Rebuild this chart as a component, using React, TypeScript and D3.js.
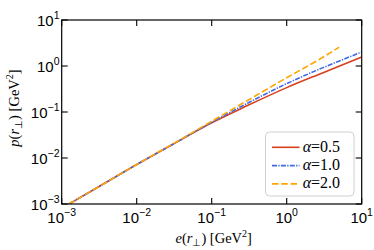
import React, { useEffect, useRef } from 'react';
import * as d3 from 'd3';

// x values (e(r_perp) in GeV^2) shared by all curves
const eValues = [1.25e-3, 3e-3, 1e-2, 3e-2, 1e-1, 0.3, 1, 3, 10];
const eValuesOrange = [1.25e-3, 3e-3, 1e-2, 3e-2, 1e-1, 0.3, 1, 3, 5];

const pAlpha05 = [1e-3, 2.29e-3, 7.2e-3, 0.0197, 0.0582, 0.138, 0.339, 0.708, 1.57];
const pAlpha10 = [1e-3, 2.29e-3, 7.2e-3, 0.0197, 0.0596, 0.155, 0.414, 0.91, 2.01];
const pAlpha20 = [1e-3, 2.29e-3, 7.24e-3, 0.020, 0.063, 0.178, 0.556, 1.53, 2.57];

const seriesLabels = ['0.5', '1.0', '2.0'];
const tickExponents = [-3, -2, -1, 0, 1];

const W = 374;
const H = 250;
const margin = { top: 20, right: 12.3, bottom: 46, left: 61.7 };

const App: React.FC = () => {
  const svgRef = useRef<SVGSVGElement | null>(null);

  useEffect(() => {
    const svg = d3.select(svgRef.current);
    svg.selectAll('*').remove();

    const x = d3.scaleLog().domain([1e-3, 1e1]).range([margin.left, W - margin.right]);
    const y = d3.scaleLog().domain([1e-3, 1e1]).range([H - margin.bottom, margin.top]);

    const series = [
      { xs: eValues, ys: pAlpha05, color: '#d7401c', dash: null, label: seriesLabels[0] },
      { xs: eValues, ys: pAlpha10, color: '#4169e1', dash: '5,1.3,1.3,1.3', label: seriesLabels[1] },
      { xs: eValuesOrange, ys: pAlpha20, color: '#ffa500', dash: '6.5,2.8', label: seriesLabels[2] },
    ];

    svg.append('defs').append('clipPath').attr('id', 'plotclip')
      .append('rect')
      .attr('x', margin.left).attr('y', margin.top)
      .attr('width', W - margin.left - margin.right)
      .attr('height', H - margin.top - margin.bottom);

    const line = d3.line<[number, number]>()
      .x(d => x(d[0]))
      .y(d => y(d[1]))
      .curve(d3.curveMonotoneX);

    const g = svg.append('g').attr('clip-path', 'url(#plotclip)');
    series.forEach(s => {
      const pts = s.xs.map((v, i) => [v, s.ys[i]] as [number, number]);
      g.append('path')
        .datum(pts)
        .attr('d', line)
        .attr('fill', 'none')
        .attr('stroke', s.color)
        .attr('stroke-width', 1.6)
        .attr('stroke-dasharray', s.dash);
    });

    // frame
    svg.append('rect')
      .attr('x', margin.left).attr('y', margin.top)
      .attr('width', W - margin.left - margin.right)
      .attr('height', H - margin.top - margin.bottom)
      .attr('fill', 'none').attr('stroke', 'black').attr('stroke-width', 1.2);

    const tickVals = tickExponents.map(e => Math.pow(10, e));
    const tl = 6;
    const ticks = svg.append('g').attr('stroke', 'black').attr('stroke-width', 1.1);
    tickVals.forEach(v => {
      const xp = x(v);
      const yp = y(v);
      ticks.append('line').attr('x1', xp).attr('x2', xp).attr('y1', H - margin.bottom).attr('y2', H - margin.bottom - tl);
      ticks.append('line').attr('x1', xp).attr('x2', xp).attr('y1', margin.top).attr('y2', margin.top + tl);
      ticks.append('line').attr('x1', margin.left).attr('x2', margin.left + tl).attr('y1', yp).attr('y2', yp);
      ticks.append('line').attr('x1', W - margin.right).attr('x2', W - margin.right - tl).attr('y1', yp).attr('y2', yp);
    });

    const font = '"Liberation Sans", Arial, sans-serif';
    const expText = (e: number) => (e < 0 ? `\u2212${-e}` : `${e}`);
    // x tick labels
    tickExponents.forEach(e => {
      const t = svg.append('text')
        .attr('x', x(Math.pow(10, e)))
        .attr('y', 223.3)
        .attr('text-anchor', 'middle')
        .attr('font-family', font)
        .attr('font-size', 15);
      t.append('tspan').text('10');
      t.append('tspan').attr('dy', -7).attr('font-size', 10.5).text(expText(e));
    });
    // y tick labels
    tickExponents.forEach(e => {
      const t = svg.append('text')
        .attr('x', 59.5)
        .attr('y', y(Math.pow(10, e)) + 6)
        .attr('text-anchor', 'end')
        .attr('font-family', font)
        .attr('font-size', 15);
      t.append('tspan').text('10');
      t.append('tspan').attr('dy', -7).attr('font-size', 10.5).text(expText(e));
    });

    const serif = '"Liberation Serif", "Times New Roman", serif';
    const labelSize = 14.5;
    const subSize = 10;
    // x axis label
    const xl = svg.append('text')
      .attr('x', (margin.left + W - margin.right) / 2 + 2)
      .attr('y', 243)
      .attr('text-anchor', 'middle')
      .attr('font-family', serif)
      .attr('font-size', labelSize);
    xl.append('tspan').attr('font-style', 'italic').text('e');
    xl.append('tspan').text('(');
    xl.append('tspan').attr('font-style', 'italic').text('r');
    xl.append('tspan').attr('dy', 3).attr('font-size', subSize).text('\u22a5');
    xl.append('tspan').attr('dy', -3).text(') [GeV');
    xl.append('tspan').attr('dy', -6).attr('font-size', subSize).text('2');
    xl.append('tspan').attr('dy', 6).text(']');

    // y axis label
    const yl = svg.append('text')
      .attr('transform', `translate(19,${(margin.top + H - margin.bottom) / 2 - 4}) rotate(-90)`)
      .attr('text-anchor', 'middle')
      .attr('font-family', serif)
      .attr('font-size', labelSize);
    yl.append('tspan').attr('font-style', 'italic').text('p');
    yl.append('tspan').text('(');
    yl.append('tspan').attr('font-style', 'italic').text('r');
    yl.append('tspan').attr('dy', 3).attr('font-size', subSize).text('\u22a5');
    yl.append('tspan').attr('dy', -3).text(') [GeV');
    yl.append('tspan').attr('dy', -6).attr('font-size', subSize).text('2');
    yl.append('tspan').attr('dy', 6).text(']');

    // legend
    const lg = svg.append('g');
    lg.append('rect')
      .attr('x', 265.5).attr('y', 132)
      .attr('width', 88.5).attr('height', 64)
      .attr('rx', 4)
      .attr('fill', 'white').attr('fill-opacity', 0.85)
      .attr('stroke', '#d0d0d0').attr('stroke-width', 1);
    series.forEach((s, i) => {
      const yy = 147.3 + i * 18.3;
      lg.append('line')
        .attr('x1', 272).attr('x2', 299.5)
        .attr('y1', yy).attr('y2', yy)
        .attr('stroke', s.color).attr('stroke-width', 1.6)
        .attr('stroke-dasharray', s.dash);
      const t = lg.append('text')
        .attr('x', 302.7).attr('y', yy + 4.5)
        .attr('font-family', serif)
        .attr('font-size', 16);
      t.append('tspan').attr('font-style', 'italic').text('\u03b1');
      t.append('tspan').text(`=${s.label}`);
    });
  }, []);

  return (
    <svg ref={svgRef} width={W} height={H} style={{ position: 'absolute', left: 0, top: 0, background: 'white' }} />
  );
};

export default App;
